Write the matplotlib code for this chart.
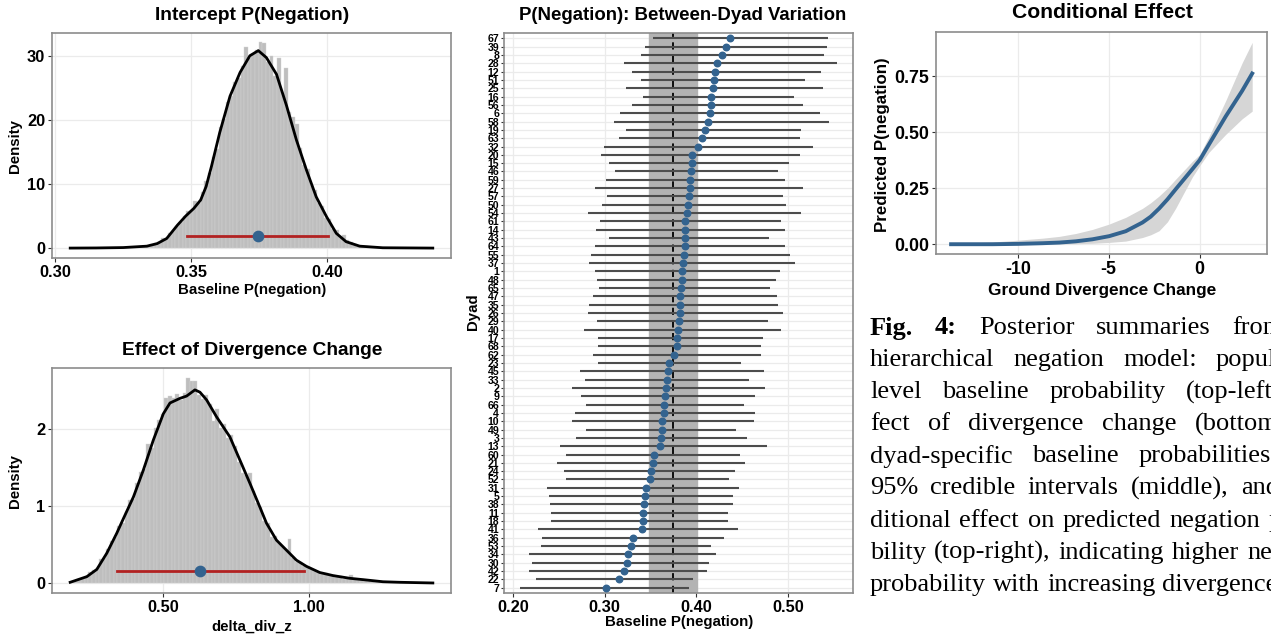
import numpy as np
import matplotlib
matplotlib.use("Agg")
import matplotlib.pyplot as plt

W, H = 1271, 637
SANS = "Liberation Sans"
SERIF = "Liberation Serif"
BLUE = "#33638F"

# --- intercept posterior (top-left) ---
int_bin_start = 0.3055
int_bin_width = 0.001334
int_hist = [0, 0, 0, 0, 0, 0, 0, 0, 0, 0.05, 0, 0, 0.05, 0, 0.05, 0.1,
            0.1, 0.15, 0.2, 0.25, 0.3, 0.4, 0.6, 0.8, 1.0, 1.6, 1.4, 2.3, 2.6, 3.5,
            4.0, 5.0, 5.8, 6.0, 7.3, 7.0, 8.8, 10.5, 11.7, 14.2, 15.4, 18.9, 20.2, 22.8,
            23.7, 25.9, 26.6, 28.4, 31.3, 29.6, 30.2, 30.9, 32.1, 32.0, 29.1, 30.0, 26.8,
            29.7, 24.2, 28.1, 21.2, 20.5, 19.4, 15.6, 13.0, 12.4, 9.8, 9.1, 7.0, 6.5,
            4.7, 4.5, 3.0, 2.8, 1.6, 2.1, 1.2, 0.9, 0.6, 0.5, 0.3, 0.3, 0.2, 0.1, 0.1,
            0.05, 0, 0.05, 0, 0, 0, 0, 0, 0, 0, 0, 0, 0, 0, 0.05]
int_dens_x = [0.3055, 0.315, 0.325, 0.3337, 0.3375, 0.341, 0.345, 0.348, 0.351, 0.3535,
              0.3555, 0.3575, 0.3605, 0.3643, 0.368, 0.3716, 0.3747, 0.3777, 0.3814,
              0.3851, 0.3887, 0.3924, 0.396, 0.3998, 0.4034, 0.407, 0.412, 0.4205, 0.4389]
int_dens_y = [0.0, 0.02, 0.08, 0.3, 0.7, 1.5, 3.6, 5.0, 6.2, 7.5,
              9.6, 12.8, 18.0, 23.7, 27.4, 30.0, 30.8, 29.7, 27.1,
              22.2, 16.9, 12.2, 8.0, 4.9, 2.3, 1.0, 0.3, 0.05, 0.0]
int_median, int_lo, int_hi = 0.3747, 0.3486, 0.4002

# --- divergence effect posterior (bottom-left) ---
div_bin_start = 0.1804
div_bin_width = 0.012443
div_hist = [0.02, 0.03, 0.05, 0.06, 0.10, 0.14, 0.17, 0.20, 0.31, 0.33,
            0.45, 0.55, 0.60, 0.74, 0.78, 0.92, 1.08, 1.10, 1.30, 1.45,
            1.48, 1.81, 1.75, 2.02, 2.12, 2.20, 2.40, 2.43, 2.41, 2.45,
            2.38, 2.47, 2.66, 2.62, 2.63, 2.44, 2.39, 2.44, 2.33, 2.10,
            2.26, 2.02, 2.07, 1.88, 1.92, 1.78, 1.58, 1.43, 1.40, 1.43,
            1.20, 1.04, 0.99, 0.81, 0.78, 0.60, 0.62, 0.52, 0.47, 0.43,
            0.58, 0.33, 0.28, 0.27, 0.22, 0.21, 0.18, 0.16, 0.15, 0.12,
            0.13, 0.10, 0.11, 0.08, 0.09, 0.06, 0.07, 0.11, 0.06, 0.04,
            0.05, 0.04, 0.03, 0.03, 0.02, 0.03, 0.02, 0.01, 0.02, 0.01,
            0.01, 0.01, 0.0, 0.01, 0.0, 0.01, 0.0, 0.0, 0.0, 0.0]
div_dens_x = [0.1804, 0.2374, 0.2717, 0.3059, 0.3402, 0.363, 0.3973, 0.4315, 0.4658, 0.5,
              0.5228, 0.5571, 0.5799, 0.6084, 0.6256, 0.6484, 0.6826, 0.7283, 0.7626,
              0.7968, 0.8311, 0.8539, 0.8881, 0.9224, 0.9566, 0.9909, 1.0365, 1.0822,
              1.1393, 1.1963, 1.2534, 1.3105, 1.4247]
div_dens_y = [0.013, 0.086, 0.18, 0.39, 0.65, 0.84, 1.12, 1.47, 1.86, 2.20,
              2.34, 2.40, 2.43, 2.51, 2.48, 2.38, 2.16, 1.90, 1.60,
              1.30, 0.99, 0.78, 0.56, 0.43, 0.30, 0.22, 0.14, 0.10,
              0.065, 0.043, 0.02, 0.013, 0.004]
div_median, div_lo, div_hi = 0.6267, 0.3425, 0.9817
int_bar_y, div_bar_y = 1.83, 0.16

# --- dyad estimates (top to bottom) ---
dyads = ["67", "39", "8", "28", "12", "51", "25", "16", "56", "6", "58", "19", "63", "32",
         "20", "15", "46", "59", "27", "57", "50", "54", "61", "14", "43", "64", "55", "37",
         "1", "48", "65", "47", "35", "26", "29", "40", "17", "68", "62", "23", "45", "33",
         "2", "9", "66", "4", "10", "49", "3", "13", "60", "21", "24", "52", "31", "5", "38",
         "11", "18", "41", "36", "53", "34", "30", "42", "22", "7"]
dyad_med = [0.4367, 0.4323, 0.4283, 0.4225, 0.4203, 0.4196, 0.4185, 0.4159, 0.4156, 0.4148,
            0.4127, 0.4098, 0.4058, 0.4022, 0.3956, 0.3952, 0.3938, 0.3930, 0.3927, 0.3916,
            0.3913, 0.3902, 0.3880, 0.3876, 0.3876, 0.3872, 0.3869, 0.3858, 0.3843, 0.3843,
            0.3836, 0.3825, 0.3818, 0.3818, 0.3807, 0.3804, 0.3793, 0.3785, 0.3760, 0.3698,
            0.3694, 0.3679, 0.3673, 0.3654, 0.3647, 0.3643, 0.3629, 0.3622, 0.3614, 0.3600,
            0.3542, 0.3527, 0.3509, 0.3498, 0.3450, 0.3436, 0.3433, 0.3422, 0.3418, 0.3407,
            0.3309, 0.3284, 0.3254, 0.3243, 0.3210, 0.3153, 0.3011]
dyad_lo = [0.3523, 0.3444, 0.3393, 0.3207, 0.3298, 0.3396, 0.3232, 0.3414, 0.3298, 0.3171,
           0.3105, 0.3237, 0.3160, 0.2992, 0.2956, 0.3044, 0.3112, 0.3014, 0.2888, 0.3029,
           0.2967, 0.2818, 0.2949, 0.2902, 0.3047, 0.2891, 0.2847, 0.2829, 0.2891, 0.2913,
           0.2938, 0.2866, 0.2833, 0.2818, 0.2913, 0.2778, 0.2927, 0.2924, 0.2869, 0.2927,
           0.2731, 0.2785, 0.2637, 0.2738, 0.2793, 0.2676, 0.2640, 0.2800, 0.2684, 0.2509,
           0.2578, 0.2480, 0.2553, 0.2582, 0.2367, 0.2386, 0.2400, 0.2414, 0.2418, 0.2273,
           0.2313, 0.2302, 0.2178, 0.2207, 0.2174, 0.2251, 0.2073]
dyad_hi = [0.5439, 0.5424, 0.5388, 0.5533, 0.5363, 0.5189, 0.5377, 0.5064, 0.5167, 0.5352,
           0.5446, 0.5141, 0.5134, 0.5276, 0.5134, 0.5014, 0.4894, 0.4970, 0.5167, 0.4944,
           0.4981, 0.5145, 0.4919, 0.4970, 0.4796, 0.4970, 0.5025, 0.5076, 0.4916, 0.4872,
           0.4807, 0.4876, 0.4894, 0.4949, 0.4785, 0.4923, 0.4731, 0.4709, 0.4701, 0.4491,
           0.4734, 0.4578, 0.4745, 0.4636, 0.4519, 0.4636, 0.4628, 0.4432, 0.4549, 0.4770,
           0.4480, 0.4534, 0.4421, 0.4356, 0.4461, 0.4403, 0.4396, 0.4349, 0.4349, 0.4454,
           0.4305, 0.4164, 0.4211, 0.4138, 0.4112, 0.3967, 0.3919]

# --- conditional effect (top-right) ---
cond_x = [-13.66, -11.37, -10.0, -8.63, -7.71, -6.80, -5.89, -4.97, -4.06, -3.14, -2.69,
          -2.23, -1.77, -1.32, -0.86, -0.40, 0.0, 0.51, 1.43, 2.34, 2.89]
cond_mean = [0.0, 0.0, 0.0015, 0.0045, 0.0074, 0.013, 0.022, 0.036, 0.058, 0.097, 0.123,
             0.159, 0.200, 0.245, 0.290, 0.335, 0.375, 0.445, 0.57, 0.685, 0.762]
cond_lo = [0.0, 0.0, 0.0, 0.0, 0.001, 0.002, 0.004, 0.008, 0.014, 0.03, 0.042,
           0.06, 0.10, 0.16, 0.23, 0.30, 0.35, 0.41, 0.49, 0.56, 0.594]
cond_hi = [0.002, 0.01, 0.018, 0.027, 0.035, 0.048, 0.066, 0.09, 0.12, 0.16, 0.185,
           0.215, 0.25, 0.29, 0.33, 0.37, 0.40, 0.48, 0.64, 0.81, 0.901]

caption = [
    "Fig. 4: Posterior summaries from the",
    "hierarchical negation model: population-",
    "level baseline probability (top-left), ef-",
    "fect of divergence change (bottom-left),",
    "dyad-specific baseline probabilities with",
    "95% credible intervals (middle), and con-",
    "ditional effect on predicted negation proba-",
    "bility (top-right), indicating higher negation",
    "probability with increasing divergence.",
]

plt.rcParams["font.family"] = SANS
plt.rcParams["font.weight"] = "bold"
plt.rcParams["axes.labelweight"] = "bold"

fig = plt.figure(figsize=(W / 100, H / 100), dpi=100)


def px_axes(l, t, r, b):
    return fig.add_axes([l / W, 1 - b / H, (r - l) / W, (b - t) / H])


def style(ax, fs=11.8):
    ax.set_facecolor("white")
    ax.grid(True, color="#EBEBEB", lw=0.9)
    ax.set_axisbelow(True)
    for s in ax.spines.values():
        s.set_color("#8C8C8C")
        s.set_linewidth(1.2)
    ax.tick_params(length=3, width=0.8, color="#333333", labelsize=fs, pad=2)


def fig_text(x, y, s, **kw):
    fig.text(x / W, 1 - y / H, s, ha="center", va="center", **kw)


# top-left
ax1 = px_axes(52, 33.3, 451, 257.7)
style(ax1)
c1 = int_bin_start + int_bin_width * (np.arange(len(int_hist)) + 0.5)
ax1.bar(c1, int_hist, width=int_bin_width, color="#BEBEBE", edgecolor="#D4D4D4", linewidth=0.3)
ax1.plot(int_dens_x, int_dens_y, color="black", lw=2)
ax1.plot([int_lo, int_hi], [int_bar_y, int_bar_y], color="#B22222", lw=2)
ax1.scatter([int_median], [int_bar_y], s=55, color=BLUE, zorder=5)
ax1.set_xlim(0.2988, 0.4456)
ax1.set_ylim(-1.5, 33.5)
ax1.set_xticks([0.30, 0.35, 0.40], ["0.30", "0.35", "0.40"])
ax1.set_yticks([0, 10, 20, 30])
fig_text(252, 16, "Intercept P(Negation)", fontsize=13.9, weight="bold")
fig_text(252, 290, "Baseline P(negation)", fontsize=10.8, weight="bold")
fig_text(15, 146, "Density", fontsize=10.8, weight="bold", rotation=90)

# bottom-left
ax2 = px_axes(52, 368.3, 451, 593.3)
style(ax2)
c2 = div_bin_start + div_bin_width * (np.arange(len(div_hist)) + 0.5)
ax2.bar(c2, div_hist, width=div_bin_width, color="#BEBEBE", edgecolor="#D4D4D4", linewidth=0.3)
ax2.plot(div_dens_x, div_dens_y, color="black", lw=2)
ax2.plot([div_lo, div_hi], [div_bar_y, div_bar_y], color="#B22222", lw=2)
ax2.scatter([div_median], [div_bar_y], s=55, color=BLUE, zorder=5)
ax2.set_xlim(0.118, 1.487)
ax2.set_ylim(-0.13, 2.79)
ax2.set_xticks([0.5, 1.0], ["0.50", "1.00"])
ax2.set_yticks([0, 1, 2])
fig_text(252, 351, "Effect of Divergence Change", fontsize=13.8, weight="bold")
fig_text(252, 627, "delta_div_z", fontsize=10.8, weight="bold")
fig_text(15, 481, "Density", fontsize=10.8, weight="bold", rotation=90)

# middle forest plot
ax3 = px_axes(504, 33.3, 852.7, 592.7)
style(ax3)
n = len(dyads)
pos = np.arange(n, 0, -1)
ax3.axvspan(int_lo, int_hi, color="#B3B3B3", zorder=1)
ax3.axvline(int_median, color="black", lw=1.3, ls=(0, (4, 3)), zorder=2)
ax3.hlines(pos, dyad_lo, dyad_hi, color="#4D4D4D", lw=1.5, zorder=3)
ax3.scatter(dyad_med, pos, s=22, color=BLUE, zorder=4)
ax3.set_xlim(0.190, 0.5706)
ax3.set_ylim(0.4, n + 0.6)
ax3.set_xticks([0.2, 0.3, 0.4, 0.5], ["0.20", "0.30", "0.40", "0.50"])
ax3.set_yticks(pos, dyads)
ax3.tick_params(axis="y", labelsize=7.6, pad=1, length=2.5)
fig_text(683, 16, "P(Negation): Between-Dyad Variation", fontsize=13.4, weight="bold")
fig_text(679, 622, "Baseline P(negation)", fontsize=10.8, weight="bold")
fig_text(473, 312, "Dyad", fontsize=10.8, weight="bold", rotation=90)

# right conditional effect
ax4 = px_axes(936, 32.3, 1267.3, 254.3)
style(ax4, fs=12.8)
ax4.fill_between(cond_x, cond_lo, cond_hi, color="#D6D6D6", lw=0)
ax4.plot(cond_x, cond_mean, color=BLUE, lw=2.8)
ax4.set_xlim(-14.49, 3.72)
ax4.set_ylim(-0.045, 0.946)
ax4.set_xticks([-10, -5, 0], ["-10", "-5", "0"])
ax4.set_yticks([0, 0.25, 0.5, 0.75], ["0.00", "0.25", "0.50", "0.75"])
fig_text(1102, 12, "Conditional Effect", fontsize=15.2, weight="bold")
fig_text(1102, 290, "Ground Divergence Change", fontsize=12.4, weight="bold")
fig_text(882, 145, "Predicted P(negation)", fontsize=12.2, weight="bold", rotation=90)

# caption, justified like the paper column
L, R = 870, 1338
r = fig.canvas.get_renderer()
for k, line in enumerate(caption):
    y = 328 + 32.1 * k
    words = line.split(" ")
    texts = []
    for w in words:
        bold = (k == 0 and w in ("Fig.", "4:"))
        t = fig.text(0, 1 - y / H, w, fontsize=19, family=SERIF,
                     weight="bold" if bold else "normal", va="center", ha="left")
        texts.append(t)
    widths = [t.get_window_extent(r).width for t in texts]
    if k < len(caption) - 1:
        gap = (R - L - sum(widths)) / (len(words) - 1)
    else:
        gap = 7
    x = L
    for t, wd in zip(texts, widths):
        t.set_x(x / W)
        x += wd + gap

fig.savefig("out.png", dpi=100, facecolor="white")
